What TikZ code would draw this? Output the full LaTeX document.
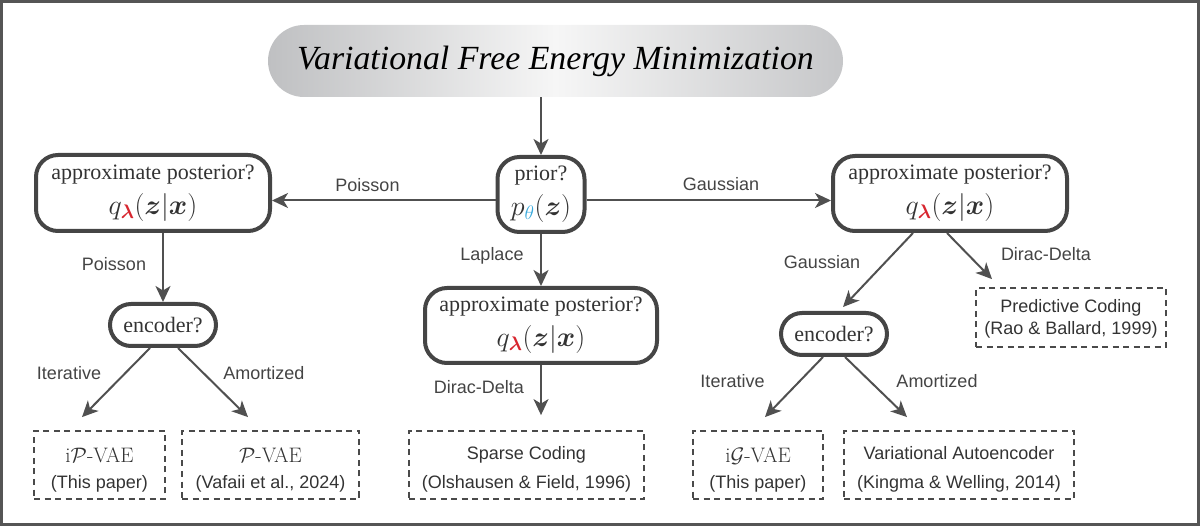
\documentclass[tikz,border=0pt]{standalone}
\usepackage{fix-cm}
\usepackage{amsmath}
\usepackage{bm}
\usepackage[no-math]{fontspec}
\setmainfont{Liberation Serif}
\setsansfont{Liberation Sans}
\newfontfamily\lmrfont{Latin Modern Roman}
\usetikzlibrary{arrows.meta,calc}
\definecolor{boxc}{HTML}{454545}
\definecolor{arrc}{HTML}{505050}
\definecolor{dashc}{HTML}{4A4A4A}
\definecolor{txtc}{HTML}{333333}
\definecolor{lblc}{HTML}{444444}
\definecolor{framec}{HTML}{555555}
\definecolor{lamred}{HTML}{D7262F}
\definecolor{thetablue}{HTML}{39A9DC}
\definecolor{pillL}{HTML}{BFC0C2}
\definecolor{pillM}{HTML}{F6F6F6}
\definecolor{pillR}{HTML}{C6C7C9}
\newcommand{\qlx}{{\fontsize{28}{30}\selectfont $q_{\textcolor{lamred}{\bm{\lambda}}}(\bm{z}|\bm{x})$}}
\newcommand{\ptz}{{\fontsize{28}{30}\selectfont $p_{\textcolor{thetablue}{\theta}}(\bm{z})$}}
\tikzset{
  qbox/.style={draw=boxc, line width=4pt, rounded corners=22pt, align=center,
    font=\fontsize{22}{35}\selectfont, text=txtc, inner sep=0pt},
  encbox/.style={draw=boxc, line width=4pt, rounded corners=21pt, minimum width=106pt,
    minimum height=42pt, inner sep=0pt, font=\fontsize{22}{26}\selectfont, text=txtc},
  dboxA/.style={draw=dashc, line width=1.8pt, dash pattern=on 6pt off 4.5pt,
    minimum height=68pt, align=center, inner sep=0pt, text=txtc,
    font=\sffamily\fontsize{18}{29.5}\selectfont},
  dboxB/.style={dboxA, font=\sffamily\fontsize{18}{26.5}\selectfont},
  arr/.style={draw=arrc, line width=2pt, -{Stealth[length=16pt,width=15pt,inset=4.5pt]}},
  lbl/.style={font=\sffamily\fontsize{18}{20}\selectfont, text=lblc, anchor=base, inner sep=0pt},
}
\begin{document}
\begin{tikzpicture}[x=1pt,y=-1pt]
\useasboundingbox (0,0) rectangle (1200,526);
\draw[line width=3pt, framec] (1.5,1.5) rectangle (1198.5,524.5);

% title
\node[rounded corners=36pt, minimum width=575pt, minimum height=72pt, inner sep=0pt,
  left color=pillL, right color=pillR, middle color=pillM,
  font=\fontsize{33.8}{36}\selectfont\itshape, text=black] (title) at (555.5,61)
  {Variational Free Energy Minimization};

% question boxes
\node[qbox, minimum width=87pt, minimum height=75pt] (prior) at (541,194.5)
  {prior?\\\ptz};
\node[qbox, minimum width=234pt, minimum height=76pt] (lpost) at (153,193)
  {approximate posterior?\\\qlx};
\node[qbox, minimum width=234pt, minimum height=75pt] (rpost) at (950,193.5)
  {approximate posterior?\\\qlx};
\node[qbox, minimum width=232pt, minimum height=75pt] (cpost) at (541,325.5)
  {approximate posterior?\\\qlx};
\node[encbox] (lenc) at (163,325) {encoder?};
\node[encbox] (renc) at (834,334) {encoder?};

% result boxes
\node[dboxB, minimum width=131pt] (ipvae) at (99.5,465)
  {\rule{0pt}{24.3pt}{\lmrfont\fontsize{21}{26.5}\selectfont i$\mathcal{P}$-VAE}\\(This paper)};
\node[dboxB, minimum width=177pt] (pvae) at (270.5,465)
  {\rule{0pt}{24.3pt}{\lmrfont\fontsize{21}{26.5}\selectfont $\mathcal{P}$-VAE}\\(Vafaii et al., 2024)};
\node[dboxA, minimum width=235pt] (sparse) at (526.5,465)
  {\rule{0pt}{21.3pt}Sparse Coding\\(Olshausen \& Field, 1996)};
\node[dboxB, minimum width=130pt] (igvae) at (758,465)
  {\rule{0pt}{24.3pt}{\lmrfont\fontsize{21}{26.5}\selectfont i$\mathcal{G}$-VAE}\\(This paper)};
\node[dboxA, minimum width=230pt] (vae) at (959,465)
  {\rule{0pt}{21.3pt}Variational Autoencoder\\(Kingma \& Welling, 2014)};
\node[dboxA, minimum width=190pt, minimum height=59pt, font=\sffamily\fontsize{18}{22}\selectfont] (pred) at (1071,317.5)
  {\rule{0pt}{15.4pt}Predictive Coding\\(Rao \& Ballard, 1999)};

% connectors
\draw[arr] (prior.north |- title.south) -- (prior.north);
\draw[arr] ($(prior.west)+(0,6)$) coordinate (pw) -- (pw -| lpost.east);
\draw[arr] ($(prior.east)+(0,6)$) coordinate (pe) -- (pe -| rpost.west);
\draw[arr] (prior.south) -- (cpost.north);
\draw[arr] (lenc.north |- lpost.south) -- (lenc.north);
\draw[arr] ($(lenc.south)+(-13,0)$) -- ($(ipvae.north)+(-17.5,-13)$);
\draw[arr] ($(lenc.south)+(15,0)$) -- ($(pvae.north)+(-22.5,-13)$);
\draw[arr] (cpost.south) -- ($(cpost.south |- sparse.north)+(0,-15)$);
\draw[arr] ($(rpost.south)+(-37,0)$) -- ($(renc.north)+(9,-4)$);
\draw[arr] ($(rpost.south)+(-3,0)$) -- ($(pred.north)+(-79,-8)$);
\draw[arr] ($(renc.south)+(-11,0)$) -- ($(igvae.north)+(7,-13)$);
\draw[arr] ($(renc.south)+(11,0)$) -- ($(vae.north)+(-52,-13)$);

% labels
\node[lbl] (lPoisH) at (367.5,191.5) {Poisson};
\node[lbl] (lGausH) at (721,191) {Gaussian};
\node[lbl] (lLap) at (492,261) {Laplace};
\node[lbl] (lPoisV) at (114,270.5) {Poisson};
\node[lbl] (lItL) at (69,380) {Iterative};
\node[lbl] (lAmL) at (264,380) {Amortized};
\node[lbl] (lDirC) at (479,394) {Dirac-Delta};
\node[lbl] (lGausR) at (822,269) {Gaussian};
\node[lbl] (lDirR) at (1046,260.5) {Dirac-Delta};
\node[lbl] (lItR) at (732.5,388) {Iterative};
\node[lbl] (lAmR) at (937,388) {Amortized};
\end{tikzpicture}
\end{document}
